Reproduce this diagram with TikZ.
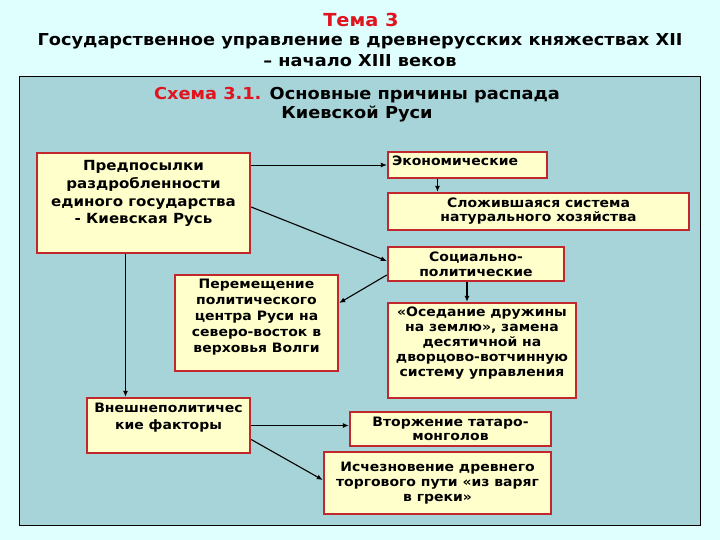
\documentclass[tikz,border=0pt]{standalone}
\usepackage{fontspec}
\setmainfont{DejaVu Sans}[FakeStretch=1.08]
\usetikzlibrary{arrows.meta,calc}
\definecolor{cSky}{HTML}{DFFFFF}
\definecolor{cPanel}{HTML}{A6D4D8}
\definecolor{cCream}{HTML}{FFFFCC}
\definecolor{cBrick}{HTML}{C0282D}
\definecolor{cRed}{HTML}{E0141E}
% box text: [inner pos]{width}{height}{text}, sizes in bp
\newcommand\cell[4][t]{\parbox[c][\dimexpr#3bp-8bp\relax][#1]{\dimexpr#2bp-8bp\relax}{\centering #4}}

\begin{document}
\begin{tikzpicture}[x=1bp,y=-1bp,
  box/.style={draw=cBrick,fill=cCream,line width=2.4bp,inner sep=4bp,
    font=\fontsize{13}{15}\selectfont\bfseries},
  edge/.style={line width=1.1bp,-{Latex[length=6bp,width=5bp]}}]
\path[use as bounding box,fill=cSky] (0,0) rectangle (720,540);
\draw[fill=cPanel,line width=1bp] (19,77) rectangle (700,525);
% titles
\node[font=\fontsize{18}{20}\selectfont\bfseries,text=cRed] (theme) at (361,20) {Тема 3};
\node[font=\fontsize{16.5}{21}\selectfont\bfseries,align=center] (subject) at (360,50.5)
  {Государственное управление в древнерусских княжествах XII\\– начало XIII веков};
\node[font=\fontsize{16.5}{19}\selectfont\bfseries,align=center] (scheme) at (357,104.5)
  {\textcolor{cRed}{Схема 3.1.} Основные причины распада\\Киевской Руси};
% boxes
\node[box,font=\fontsize{14}{18}\selectfont\bfseries] (prem) at (143.5,203)
  {\cell{213}{100}{\vspace*{3bp}Предпосылки\\раздробленности\\единого государства\\- Киевская Русь}};
\node[box] (econ) at (467.5,165) {\cell{159}{26}{\raggedright Экономические}};
\node[box,font=\fontsize{13}{14}\selectfont\bfseries] (natur) at (538.5,211.5)
  {\cell[c]{301}{37}{Сложившаяся система\\натурального хозяйства}};
\node[box] (social) at (476,264) {\cell[c]{176}{34}{Социально-\\политические}};
\node[box,font=\fontsize{13}{16}\selectfont\bfseries] (centre) at (256.5,323)
  {\cell{163}{96}{Перемещение\\политического\\центра Руси на\\северо-восток в\\верховья Волги}};
\node[box] (druzh) at (482,350.5)
  {\cell{188}{95}{«Оседание дружины\\на землю», замена\\десятичной на\\дворцово-вотчинную\\систему управления}};
\node[box,font=\fontsize{13}{17}\selectfont\bfseries] (foreign) at (168.5,425.5)
  {\cell{163}{55}{\vspace*{1bp}Внешнеполитичес\\кие факторы}};
\node[box,font=\fontsize{13}{14}\selectfont\bfseries] (invasion) at (450.5,429)
  {\cell[c]{201}{34}{Вторжение татаро-\\монголов}};
\node[box] (trade) at (437.5,483)
  {\cell[c]{227}{62}{Исчезновение древнего\\торгового пути «из варяг\\в греки»}};
% connectors
\draw[edge,line width=.9bp] (prem.east |- econ.west) -- (econ.west);
\draw[edge] ([yshift=-4bp]prem.east) -- ([yshift=3bp]social.west);
\draw[edge] ([xshift=-30bp]econ.south) -- ([xshift=-30bp]econ.south |- natur.north);
\draw[edge] ([xshift=-9bp]social.south) -- ([xshift=-9bp]social.south |- druzh.north);
\draw[edge] ([yshift=-11bp]social.west) -- ([yshift=20bp]centre.east);
\draw[edge] ([xshift=-18bp]prem.south) -- ([xshift=-18bp]prem.south |- foreign.north);
\draw[edge] (foreign.east) -- (foreign.east -| invasion.west);
\draw[edge] ([yshift=-14bp]foreign.east) -- ([yshift=3bp]trade.west);
\end{tikzpicture}
\end{document}
